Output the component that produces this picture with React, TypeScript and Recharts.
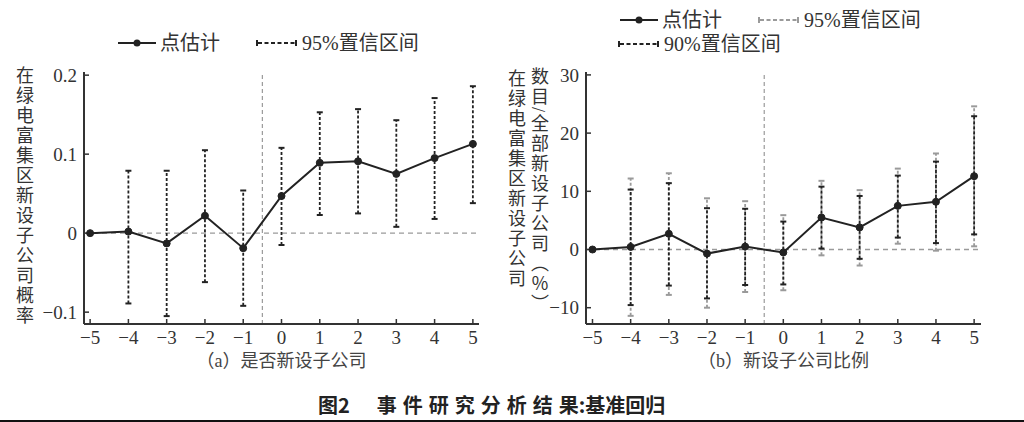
import React from 'react';
import { ComposedChart, Line, XAxis, YAxis, ErrorBar, ReferenceLine } from 'recharts';

// event time
const periods = [-5, -4, -3, -2, -1, 0, 1, 2, 3, 4, 5];

// (a) 是否新设子公司
const probEstimate = [0, 0.002, -0.013, 0.022, -0.019, 0.047, 0.089, 0.091, 0.075, 0.095, 0.113];
const probLow95 = [null, -0.089, -0.105, -0.062, -0.092, -0.015, 0.023, 0.025, 0.008, 0.018, 0.038];
const probHigh95 = [null, 0.079, 0.079, 0.105, 0.054, 0.108, 0.153, 0.157, 0.143, 0.171, 0.186];
const probTicks = [-0.1, 0, 0.1, 0.2];

// (b) 新设子公司比例
const shareEstimate = [0, 0.45, 2.7, -0.7, 0.5, -0.5, 5.5, 3.8, 7.5, 8.2, 12.6];
const shareLow95 = [null, -11.4, -7.8, -10.0, -7.3, -7.0, -1.0, -2.75, 1.0, -0.2, 0.55];
const shareHigh95 = [null, 12.2, 13.1, 8.8, 8.3, 5.9, 11.8, 10.2, 13.9, 16.5, 24.6];
const shareLow90 = [null, -9.55, -6.2, -8.4, -6.1, -6.0, 0.17, -1.6, 2.05, 1.1, 2.6];
const shareHigh90 = [null, 10.3, 11.4, 7.1, 7.0, 4.8, 10.8, 9.2, 12.7, 15.1, 22.9];
const shareTicks = [-10, 0, 10, 20, 30];

const SERIF = "'Liberation Serif', 'Times New Roman', Tinos, 'Noto Sans CJK SC', serif";
const DARK = '#222';
const GREY = '#9a9a9a';

const fmt = (v: number) => (v < 0 ? '\u2212' + Math.abs(v) : String(v));

const buildRows = (est: number[], low95: (number | null)[], high95: (number | null)[], low90?: (number | null)[], high90?: (number | null)[]) =>
  periods.map((t, i) => ({
    t,
    est: est[i],
    low95: low95[i],
    high95: high95[i],
    err95: low95[i] == null ? undefined : [est[i] - (low95[i] as number), (high95[i] as number) - est[i]],
    low90: low90 ? low90[i] : null,
    high90: high90 ? high90[i] : null,
    err90: low90 && high90 && low90[i] != null ? [est[i] - (low90[i] as number), (high90[i] as number) - est[i]] : undefined,
  }));

const probRows = buildRows(probEstimate, probLow95, probHigh95);
const shareRows = buildRows(shareEstimate, shareLow95, shareHigh95, shareLow90, shareHigh90);

// small cap drawn at the end of each interval
const makeCap = (color: string) => (props: any) => {
  const { cx, cy, index } = props;
  if (cx == null || cy == null || Number.isNaN(cy)) return <g key={index} />;
  return <line key={index} x1={cx - 3} x2={cx + 3} y1={cy} y2={cy} stroke={color} strokeWidth={2} />;
};

const tickStyle = { fontFamily: SERIF, fontSize: 19, fill: '#333' };

const LineKey = () => (
  <svg width={38} height={10} style={{ display: 'block' }}>
    <line x1={0} x2={38} y1={5} y2={5} stroke={DARK} strokeWidth={2} />
    <circle cx={19} cy={5} r={3.5} fill={DARK} />
  </svg>
);

const CiKey = ({ color }: { color: string }) => (
  <svg width={41} height={10} style={{ display: 'block' }}>
    <line x1={1} x2={1} y1={2} y2={8} stroke={color} strokeWidth={2} />
    <line x1={2} x2={39} y1={5} y2={5} stroke={color} strokeWidth={1.8} strokeDasharray="4 2.5" />
    <line x1={40} x2={40} y1={2} y2={8} stroke={color} strokeWidth={2} />
  </svg>
);

const keyText: React.CSSProperties = {
  position: 'absolute',
  fontFamily: SERIF,
  fontSize: 20,
  color: '#333',
  lineHeight: '24px',
  whiteSpace: 'nowrap',
};

const vertical: React.CSSProperties = {
  position: 'absolute',
  writingMode: 'vertical-lr',
  fontFamily: SERIF,
  fontSize: 18,
  letterSpacing: 2,
  lineHeight: '18px',
  color: '#333',
  whiteSpace: 'nowrap',
};

const App = () => {
  return (
    <div style={{ position: 'absolute', left: 0, top: 0, width: 1024, height: 422, background: '#fff', overflow: 'hidden', fontFamily: SERIF }}>
      {/* legend (a) */}
      <div style={{ position: 'absolute', left: 118, top: 38 }}><LineKey /></div>
      <div style={{ ...keyText, left: 160, top: 31 }}>点估计</div>
      <div style={{ position: 'absolute', left: 256, top: 38 }}><CiKey color={DARK} /></div>
      <div style={{ ...keyText, left: 302, top: 31 }}>95%置信区间</div>

      {/* legend (b) */}
      <div style={{ position: 'absolute', left: 620, top: 15 }}><LineKey /></div>
      <div style={{ ...keyText, left: 662, top: 8 }}>点估计</div>
      <div style={{ position: 'absolute', left: 758, top: 15 }}><CiKey color={GREY} /></div>
      <div style={{ ...keyText, left: 804, top: 8 }}>95%置信区间</div>
      <div style={{ position: 'absolute', left: 618, top: 39 }}><CiKey color={DARK} /></div>
      <div style={{ ...keyText, left: 664, top: 32 }}>90%置信区间</div>

      {/* y labels */}
      <div style={{ ...vertical, left: 14, top: 66 }}>在绿电富集区新设子公司概率</div>
      <div style={{ ...vertical, left: 506, top: 69 }}>在绿电富集区新设子公司</div>
      <div style={{ ...vertical, left: 529, top: 67 }}>数目/全部新设子公司（％）</div>

      <div style={{ position: 'absolute', left: 0, top: 0 }}>
        <ComposedChart width={512} height={370} data={probRows} margin={{ top: 72, right: 33, bottom: 2, left: 40 }}>
          <ReferenceLine y={0} stroke={GREY} strokeWidth={1.3} strokeDasharray="5 4" />
          <ReferenceLine x={-0.5} stroke={GREY} strokeWidth={1.2} strokeDasharray="4 3" />
          <XAxis
            type="number"
            dataKey="t"
            domain={[-5.16, 5.16]}
            ticks={periods}
            allowDataOverflow
            tickFormatter={fmt}
            tick={tickStyle}
            tickSize={-5}
            tickMargin={12}
            height={44}
            axisLine={{ stroke: '#333', strokeWidth: 2 }}
            tickLine={{ stroke: '#333', strokeWidth: 1.5 }}
            label={{ value: '（a）是否新设子公司', position: 'insideBottom', offset: 1, fill: '#444', fontSize: 18, fontFamily: SERIF }}
          />
          <YAxis
            type="number"
            domain={[-0.115, 0.204]}
            ticks={probTicks}
            allowDataOverflow
            tickFormatter={fmt}
            tick={tickStyle}
            tickSize={-5}
            tickMargin={12}
            width={44}
            axisLine={{ stroke: '#333', strokeWidth: 2 }}
            tickLine={{ stroke: '#333', strokeWidth: 1.5 }}
          />
          <Line dataKey="est" stroke="none" dot={false} activeDot={false} isAnimationActive={false} legendType="none">
            <ErrorBar dataKey="err95" direction="y" width={0} stroke={DARK} strokeWidth={1.8} strokeDasharray="3 2" isAnimationActive={false} />
          </Line>
          <Line dataKey="high95" stroke="none" dot={makeCap(DARK)} activeDot={false} isAnimationActive={false} legendType="none" />
          <Line dataKey="low95" stroke="none" dot={makeCap(DARK)} activeDot={false} isAnimationActive={false} legendType="none" />
          <Line
            dataKey="est"
            stroke={DARK}
            strokeWidth={2}
            dot={{ r: 3.5, fill: DARK, stroke: DARK, strokeWidth: 1 }}
            activeDot={false}
            isAnimationActive={false}
          />
        </ComposedChart>
      </div>

      <div style={{ position: 'absolute', left: 512, top: 0 }}>
        <ComposedChart width={512} height={370} data={shareRows} margin={{ top: 72, right: 43, bottom: 2, left: 30 }}>
          <ReferenceLine y={0} stroke={GREY} strokeWidth={1.3} strokeDasharray="5 4" />
          <ReferenceLine x={-0.5} stroke={GREY} strokeWidth={1.2} strokeDasharray="4 3" />
          <XAxis
            type="number"
            dataKey="t"
            domain={[-5.17, 5.18]}
            ticks={periods}
            allowDataOverflow
            tickFormatter={fmt}
            tick={tickStyle}
            tickSize={-5}
            tickMargin={12}
            height={44}
            axisLine={{ stroke: '#333', strokeWidth: 2 }}
            tickLine={{ stroke: '#333', strokeWidth: 1.5 }}
            label={{ value: '（b）新设子公司比例', position: 'insideBottom', offset: 1, fill: '#444', fontSize: 18, fontFamily: SERIF }}
          />
          <YAxis
            type="number"
            domain={[-12.8, 30.5]}
            ticks={shareTicks}
            allowDataOverflow
            tickFormatter={fmt}
            tick={tickStyle}
            tickSize={-5}
            tickMargin={12}
            width={44}
            axisLine={{ stroke: '#333', strokeWidth: 2 }}
            tickLine={{ stroke: '#333', strokeWidth: 1.5 }}
          />
          <Line dataKey="est" stroke="none" dot={false} activeDot={false} isAnimationActive={false} legendType="none">
            <ErrorBar dataKey="err95" direction="y" width={0} stroke={GREY} strokeWidth={1.8} strokeDasharray="3 2" isAnimationActive={false} />
          </Line>
          <Line dataKey="high95" stroke="none" dot={makeCap(GREY)} activeDot={false} isAnimationActive={false} legendType="none" />
          <Line dataKey="low95" stroke="none" dot={makeCap(GREY)} activeDot={false} isAnimationActive={false} legendType="none" />
          <Line dataKey="est" stroke="none" dot={false} activeDot={false} isAnimationActive={false} legendType="none">
            <ErrorBar dataKey="err90" direction="y" width={0} stroke={DARK} strokeWidth={1.8} strokeDasharray="3 2" isAnimationActive={false} />
          </Line>
          <Line dataKey="high90" stroke="none" dot={makeCap(DARK)} activeDot={false} isAnimationActive={false} legendType="none" />
          <Line dataKey="low90" stroke="none" dot={makeCap(DARK)} activeDot={false} isAnimationActive={false} legendType="none" />
          <Line
            dataKey="est"
            stroke={DARK}
            strokeWidth={2}
            dot={{ r: 3.5, fill: DARK, stroke: DARK, strokeWidth: 1 }}
            activeDot={false}
            isAnimationActive={false}
          />
        </ComposedChart>
      </div>

      {/* figure caption */}
      <div
        style={{
          position: 'absolute',
          left: 318,
          top: 392,
          fontFamily: "'Noto Sans CJK SC', sans-serif",
          fontWeight: 700,
          fontSize: 20,
          lineHeight: '26px',
          color: '#222',
          whiteSpace: 'nowrap',
        }}
      >
        <span>图2</span>
        <span style={{ marginLeft: 27, letterSpacing: 6 }}>事件研究分析结果</span>
        <span style={{ marginLeft: -6 }}>:基准回归</span>
      </div>
      <div style={{ position: 'absolute', left: 0, top: 420, width: 1024, height: 2, background: '#111' }} />
    </div>
  );
};

export default App;
